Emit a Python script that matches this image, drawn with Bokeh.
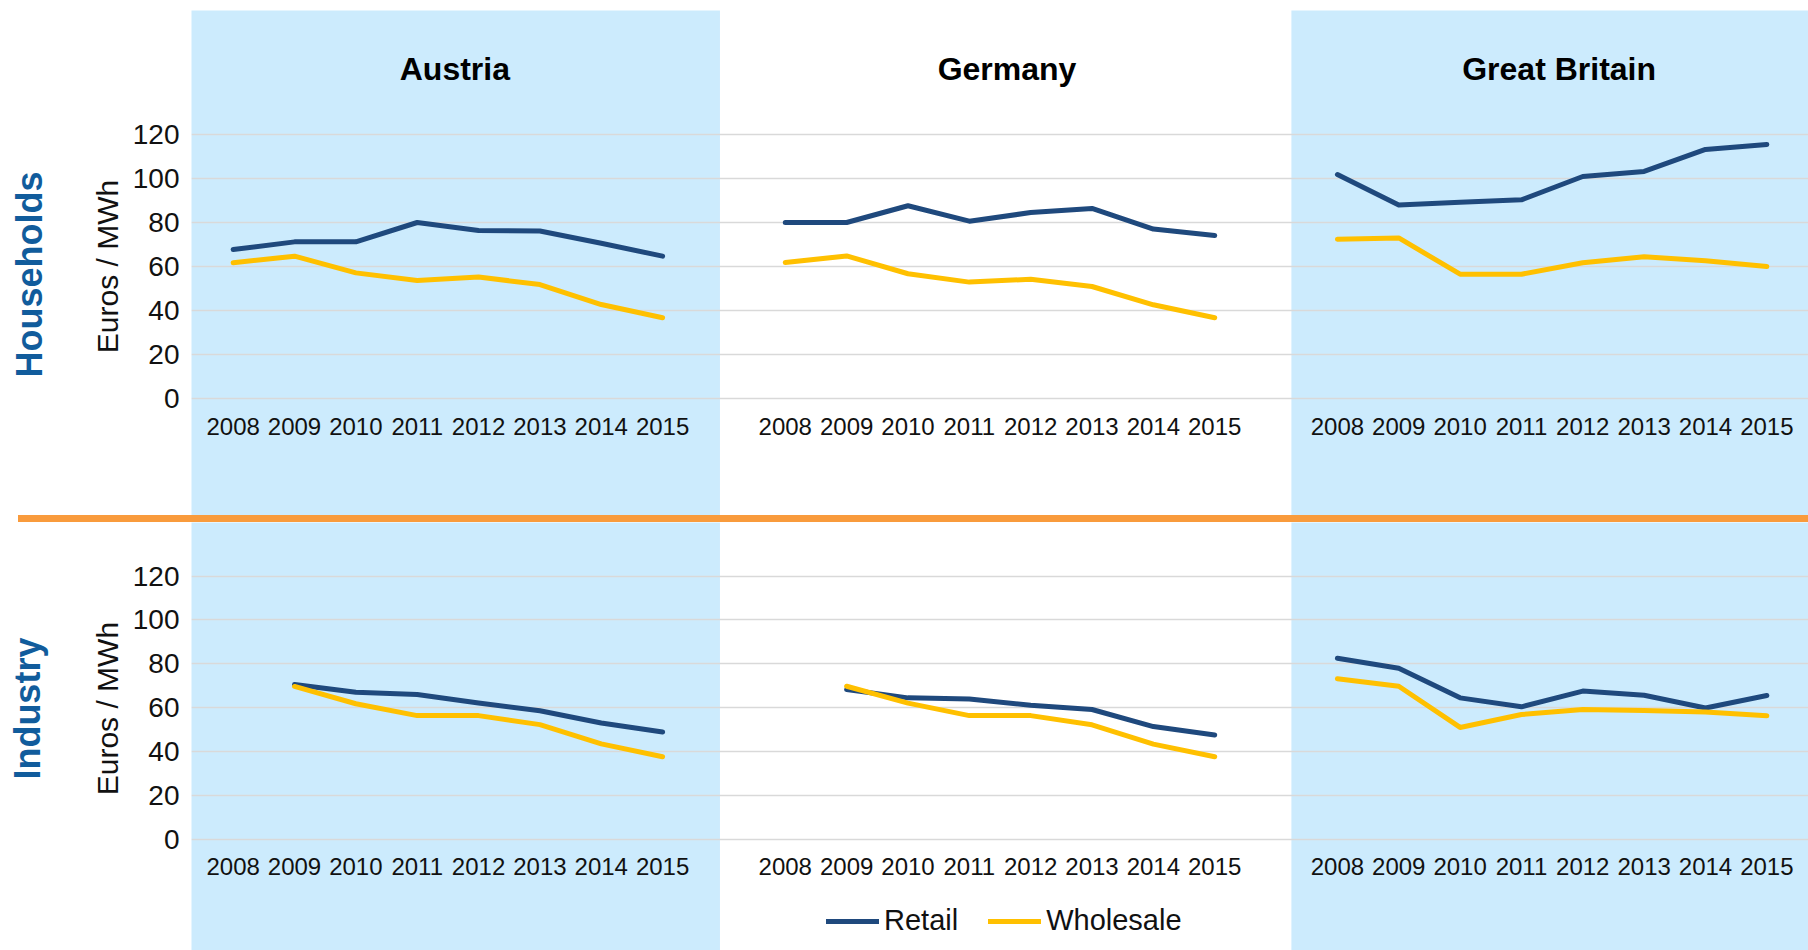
import math
from bokeh.plotting import figure
from bokeh.models import (FactorRange, Range1d, FixedTicker, Legend, LegendItem,
                          ColumnDataSource, Div)
from bokeh.layouts import column, row
from bokeh.embed import file_html
from bokeh.resources import INLINE
from bokeh.core.properties import value

NaN = float("nan")

# ---------------- data ----------------
countries = ["Austria", "Germany", "Great Britain"]
years = ["2008", "2009", "2010", "2011", "2012", "2013", "2014", "2015"]
shaded_countries = ["Austria", "Great Britain"]
y_ticks = [0, 20, 40, 60, 80, 100, 120]
series_names = ["Retail", "Wholesale"]
row_labels = ["Households", "Industry"]
y_axis_label = "Euros / MWh"

households_retail_austria = [67.7, 71.2, 71.2, 80.0, 76.4, 76.1, 70.6, 64.7]
households_wholesale_austria = [61.7, 64.7, 57.1, 53.6, 55.2, 51.8, 42.7, 36.7]
households_retail_germany = [80.0, 80.0, 87.6, 80.6, 84.5, 86.4, 77.0, 74.1]
households_wholesale_germany = [61.8, 64.8, 56.7, 52.9, 54.2, 50.9, 42.6, 36.7]
households_retail_gb = [101.8, 88.0, 89.2, 90.3, 100.9, 103.2, 113.2, 115.5]
households_wholesale_gb = [72.4, 73.0, 56.5, 56.5, 61.7, 64.4, 62.6, 60.0]

industry_retail_austria = [NaN, 70.5, 67.0, 65.9, 62.1, 58.5, 52.9, 48.8]
industry_wholesale_austria = [NaN, 69.6, 61.7, 56.3, 56.3, 52.2, 43.4, 37.5]
industry_retail_germany = [NaN, 68.2, 64.4, 63.9, 61.0, 59.1, 51.3, 47.5]
industry_wholesale_germany = [NaN, 69.7, 62.0, 56.3, 56.3, 52.1, 43.3, 37.5]
industry_retail_gb = [82.5, 77.9, 64.4, 60.3, 67.5, 65.6, 59.8, 65.5]
industry_wholesale_gb = [73.1, 69.7, 50.9, 56.8, 59.1, 58.6, 58.0, 56.2]

# ---------------- style ----------------
FONT = "Liberation Sans"
RETAIL_COLOR = "#1F497D"
WHOLESALE_COLOR = "#FFC000"
PANEL_BLUE = "#CCEBFD"
ORANGE = "#F99B3C"
GRID = "#D9D9D9"
ROW_LABEL_COLOR = "#115C9C"
TEXT = "#111111"
WIDTH = 1808
SIDE_WIDTH = 125
AXIS_BORDER = 66

# panel background edges, as offsets (in category widths) from first/last year
panel_left_offsets = [-1.5, -0.75]
panel_right_offsets = [0.935, 1.5]


def make_side(label, label_size, label_x, label_y, unit_y, height, y_start, y_end, top_border):
    s = figure(width=SIDE_WIDTH, height=height, x_range=Range1d(0, SIDE_WIDTH),
               y_range=Range1d(y_start, y_end), output_backend="svg",
               toolbar_location=None, x_axis_location=None, y_axis_location=None,
               min_border_left=0, min_border_right=0, min_border_top=top_border,
               min_border_bottom=0, outline_line_color=None,
               background_fill_color="white", border_fill_color="white")
    s.grid.visible = False
    s.text(x=[label_x], y=[label_y], text=[label], angle=math.pi / 2,
           text_font=value(FONT), text_font_size=label_size, text_font_style="bold",
           text_color=ROW_LABEL_COLOR, text_align="center", text_baseline="middle")
    s.text(x=[107], y=[unit_y], text=[y_axis_label], angle=math.pi / 2,
           text_font=value(FONT), text_font_size="30px",
           text_color=TEXT, text_align="center", text_baseline="middle")
    return s


def make_main(retail, wholesale, height, y_start, y_end, top_border,
              titles=False, legend=False):
    x_range = FactorRange(factors=[(c, y) for c in countries for y in years],
                          factor_padding=0.0, group_padding=1.0,
                          range_padding=0.1793, range_padding_units="absolute")
    p = figure(width=WIDTH - SIDE_WIDTH, height=height, x_range=x_range,
               y_range=Range1d(y_start, y_end),
               output_backend="svg", toolbar_location=None,
               min_border_left=AXIS_BORDER, min_border_right=0,
               min_border_top=top_border, min_border_bottom=0,
               outline_line_color=None, background_fill_color="white",
               border_fill_color="white")

    # shaded country panels
    bg = ColumnDataSource(dict(
        left=[[c, years[0], o] for c, o in zip(shaded_countries, panel_left_offsets)],
        right=[[c, years[-1], o] for c, o in zip(shaded_countries, panel_right_offsets)],
        bottom=[y_start - 50] * len(shaded_countries),
        top=[y_end + 50] * len(shaded_countries),
    ))
    p.quad(left="left", right="right", bottom="bottom", top="top", source=bg,
           fill_color=PANEL_BLUE, line_color=None, level="underlay")

    # grid
    p.xgrid.visible = False
    p.ygrid.ticker = FixedTicker(ticks=y_ticks)
    p.ygrid.grid_line_color = GRID
    p.ygrid.grid_line_width = 1.5

    # lines
    r_retail = r_whole = None
    for c, rv, wv in zip(countries, retail, wholesale):
        xs = [(c, y) for y in years]
        rr = p.line(x=xs, y=rv, line_color=RETAIL_COLOR, line_width=5,
                    line_cap="round", line_join="round")
        rw = p.line(x=xs, y=wv, line_color=WHOLESALE_COLOR, line_width=5,
                    line_cap="round", line_join="round")
        r_retail = r_retail or rr
        r_whole = r_whole or rw

    # x axis placed at y = 0 inside the frame
    xax = p.xaxis[0]
    xax.fixed_location = 0
    xax.axis_line_color = None
    xax.major_tick_line_color = None
    xax.minor_tick_line_color = None
    xax.major_tick_out = 0
    xax.major_tick_in = 0
    xax.major_label_orientation = "horizontal"
    xax.major_label_text_font = FONT
    xax.major_label_text_font_size = "24px"
    xax.major_label_text_color = TEXT
    xax.major_label_standoff = 19
    xax.group_text_color = None
    xax.separator_line_color = None

    # y axis (tick labels only)
    yax = p.yaxis[0]
    yax.ticker = FixedTicker(ticks=y_ticks)
    yax.axis_line_color = None
    yax.major_tick_line_color = None
    yax.minor_tick_line_color = None
    yax.major_tick_out = 0
    yax.major_tick_in = 0
    yax.major_label_text_font = FONT
    yax.major_label_text_font_size = "28px"
    yax.major_label_text_color = TEXT
    yax.major_label_standoff = 12

    if titles:
        p.text(x=countries, y=[149.8] * len(countries), text=countries,
               text_font=value(FONT), text_font_size="32px",
               text_font_style="bold", text_align="center",
               text_baseline="middle", text_color="#000000", x_offset=7)

    if legend:
        lg = Legend(items=[LegendItem(label=series_names[0], renderers=[r_retail]),
                           LegendItem(label=series_names[1], renderers=[r_whole])],
                    orientation="horizontal", location=(635, 13),
                    padding=0, margin=0, spacing=30, glyph_width=53,
                    glyph_height=30, label_height=30, label_standoff=5,
                    label_text_font=FONT, label_text_font_size="29px",
                    label_text_color=TEXT, border_line_color=None,
                    background_fill_alpha=0)
        p.add_layout(lg)
    return p


TOP_H, TOP_START, TOP_END = 515, -53.18, 176.36
BOT_H, BOT_START, BOT_END = 428, -50.87, 144.41

top_row = row(
    make_side(row_labels[0], "36px", 28.5, 56.4, 60.0, TOP_H, TOP_START, TOP_END, 10),
    make_main([households_retail_austria, households_retail_germany, households_retail_gb],
              [households_wholesale_austria, households_wholesale_germany, households_wholesale_gb],
              TOP_H, TOP_START, TOP_END, 10, titles=True),
    spacing=0, margin=0)

bottom_row = row(
    make_side(row_labels[1], "36px", 26.5, 59.5, 59.5, BOT_H, BOT_START, BOT_END, 0),
    make_main([industry_retail_austria, industry_retail_germany, industry_retail_gb],
              [industry_wholesale_austria, industry_wholesale_germany, industry_wholesale_gb],
              BOT_H, BOT_START, BOT_END, 0, legend=True),
    spacing=0, margin=0)

orange_bar = Div(text="", width=WIDTH, height=7, margin=0,
                 styles={"background": "linear-gradient(to right, #ffffff 0px, #ffffff 18px, "
                                       + ORANGE + " 18px, " + ORANGE + " 100%)"})

layout = column(top_row, orange_bar, bottom_row, spacing=0, margin=0)

open("out.html", "w").write(file_html(layout, INLINE, title="Retail vs wholesale electricity prices"))
